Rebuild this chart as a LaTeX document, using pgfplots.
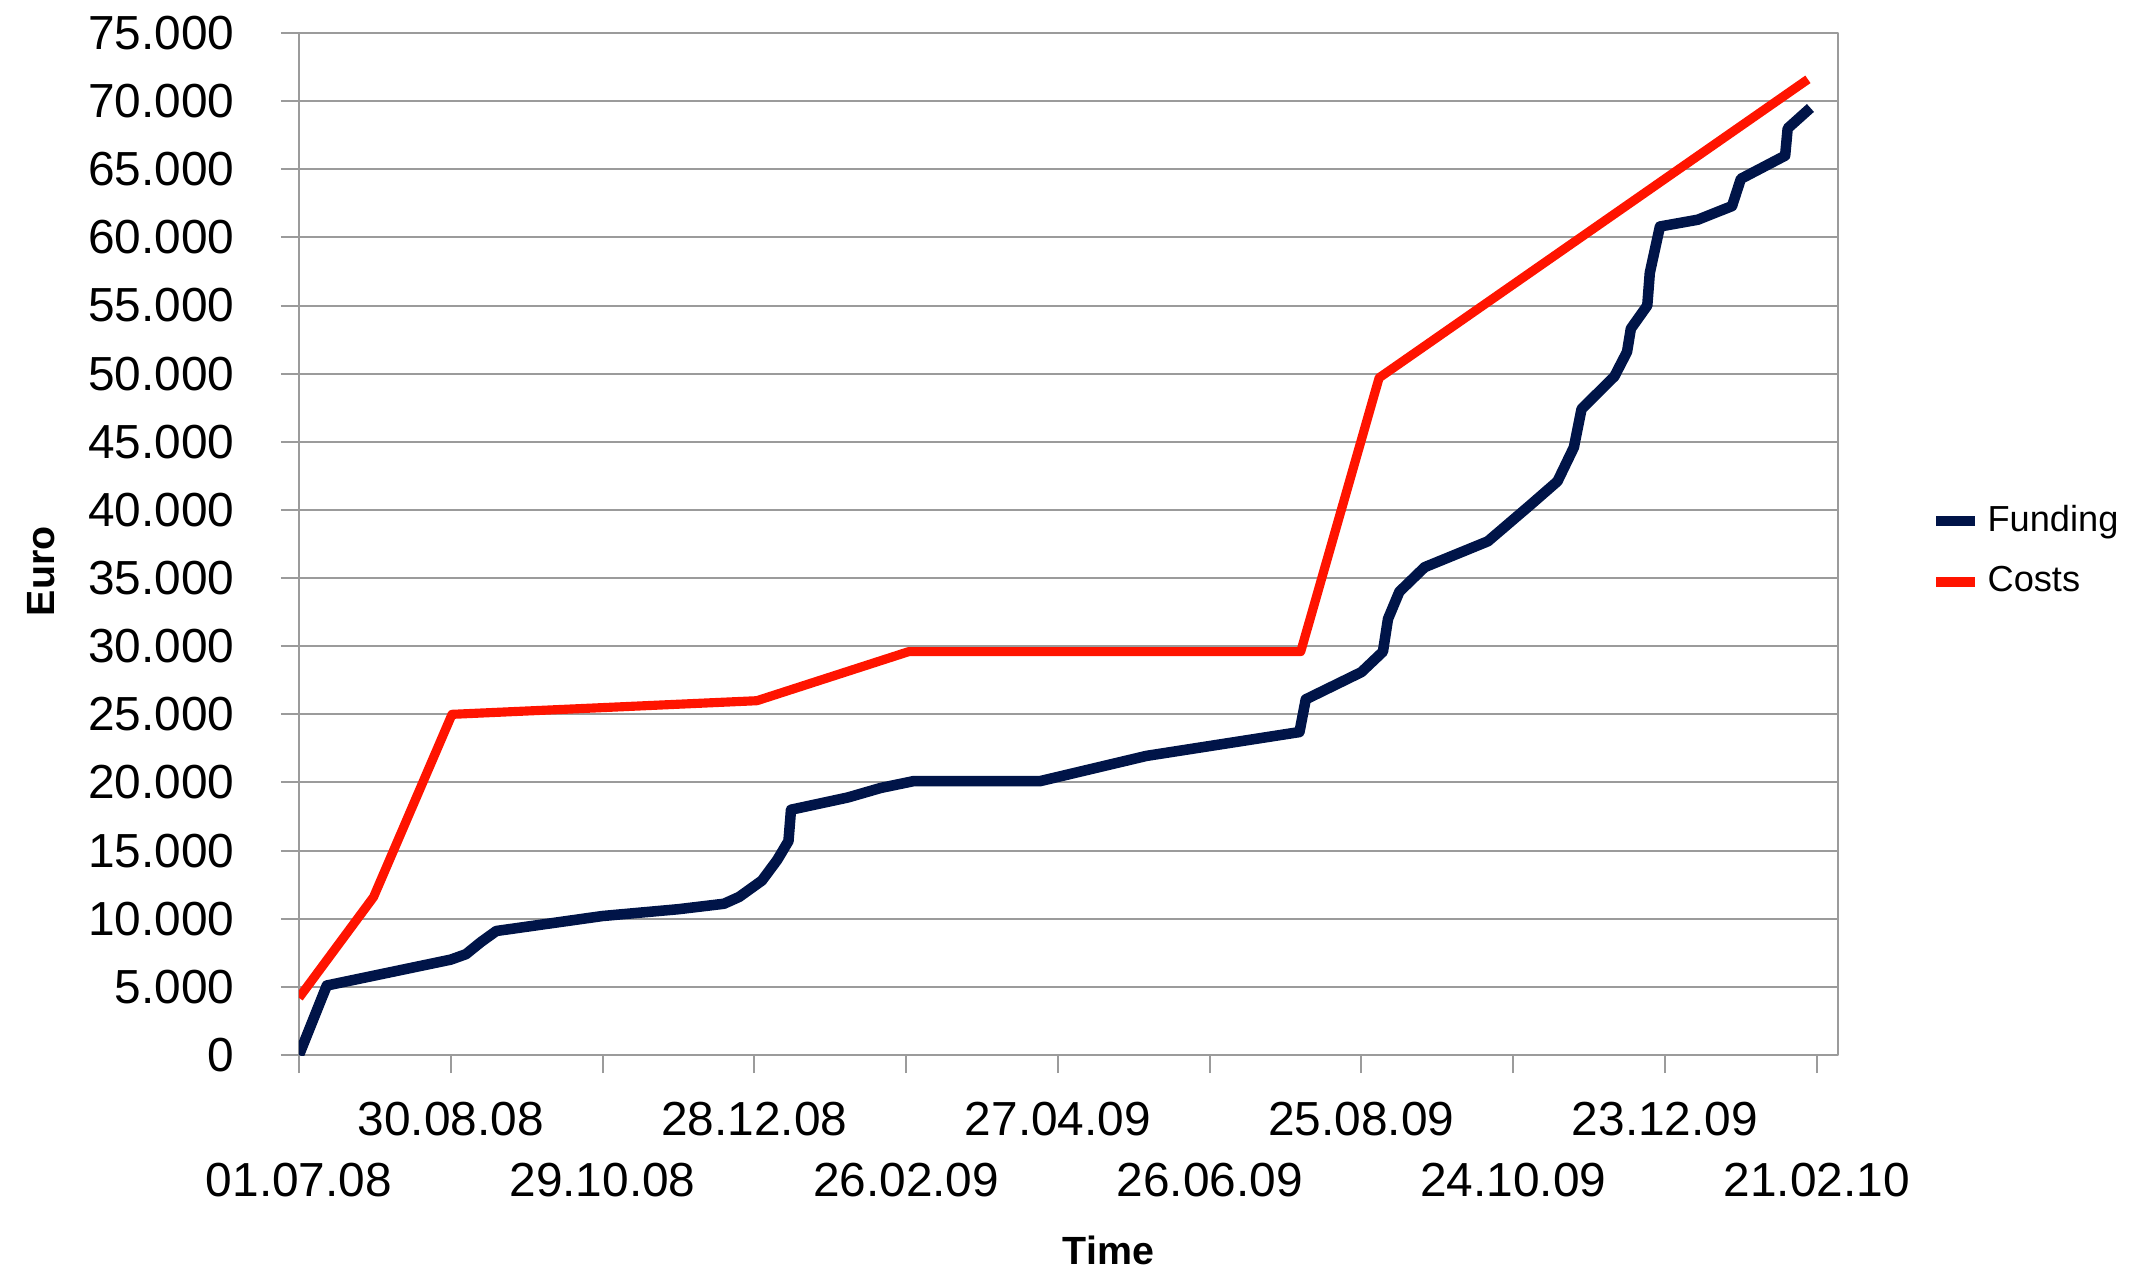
\documentclass[border=0pt]{standalone}
\usepackage{fontspec}
\setmainfont{Liberation Sans}
\usepackage{pgfplots}
\pgfplotsset{compat=1.18}
\definecolor{fundblue}{RGB}{0,20,72}
\definecolor{costred}{RGB}{255,20,0}
\definecolor{gridgray}{RGB}{155,155,155}

\begin{document}
\begin{tikzpicture}
\begin{axis}[
  name=ax,
  scale only axis,
  width=153.9mm, height=102.2mm,
  xmin=0, xmax=608.4,
  ymin=0, ymax=75000,
  axis line style={gridgray, line width=0.2mm},
  tick pos=left,
  tick align=outside,
  major tick length=1.8mm,
  tick style={gridgray, line width=0.2mm},
  scaled y ticks=false,
  scaled x ticks=false,
  ytick={0,5000,10000,15000,20000,25000,30000,35000,40000,45000,50000,55000,60000,65000,70000,75000},
  yticklabels={0,5.000,10.000,15.000,20.000,25.000,30.000,35.000,40.000,45.000,50.000,55.000,60.000,65.000,70.000,75.000},
  xtick={60,180,300,420,540},
  xticklabels={30.08.08,28.12.08,27.04.09,25.08.09,23.12.09},
  extra x ticks={0,120,240,360,480,600},
  extra x tick labels={01.07.08,29.10.08,26.02.09,26.06.09,24.10.09,21.02.10},
  extra x tick style={xticklabel style={yshift=-6.1mm}},
  tick label style={font=\fontsize{13.6}{16}\selectfont, text=black},
  xticklabel style={yshift=-1.7mm},
  yticklabel style={xshift=-3.4mm},
  ymajorgrids,
  major grid style={gridgray, line width=0.2mm},
  xlabel={Time}, ylabel={Euro},
  label style={font=\bfseries\fontsize{11.2}{13}\selectfont},
  xlabel style={at={(axis description cs:0.526,-0.1917)}, anchor=center},
  ylabel style={at={(axis description cs:-0.1676,0.4734)}, anchor=center},
  legend style={at={(axis description cs:1.060,0.493)}, anchor=west, draw=none, fill=none,
    font=\fontsize{10.3}{12}\selectfont, row sep=1.6mm, inner sep=0pt},
  legend cell align=left,
  legend image code/.code={\draw[#1] (0mm,0mm) -- (3.9mm,0mm);},
  line join=round,
]
\addplot[fundblue, line width=3pt] coordinates {
(0,0) (11,5100) (60,7000) (66,7400) (72,8300) (78,9100) (120,10200) (150,10700)
(168,11100) (174,11600) (183,12800) (189,14300) (193.5,15700) (194.5,18000)
(217,18900) (230,19600) (243,20100) (293,20100) (335,21950) (395.5,23700)
(398,26100) (420,28100) (428.5,29600) (430.5,32000) (435,34000) (445,35800)
(470,37700) (487,40400) (497.5,42100) (504,44600) (507,47400) (520,49800)
(525,51600) (526.5,53300) (533,55000) (534,57400) (538,60800) (553,61300)
(566.5,62300) (570,64300) (587.5,66000) (588.5,68000) (597.5,69500)
};
\addlegendentry{Funding}
\addplot[costred, line width=2.6pt] coordinates {
(0,4200) (29.5,11600) (60.5,25000) (181,26000) (241,29600) (396,29600) (427,49700) (596.5,71600)
};
\addlegendentry{Costs}
\end{axis}
\pgfresetboundingbox
\path (ax.south west) ++(-29.9mm,-21.7mm) rectangle ++(213.2mm,127.2mm);
\end{tikzpicture}
\end{document}
